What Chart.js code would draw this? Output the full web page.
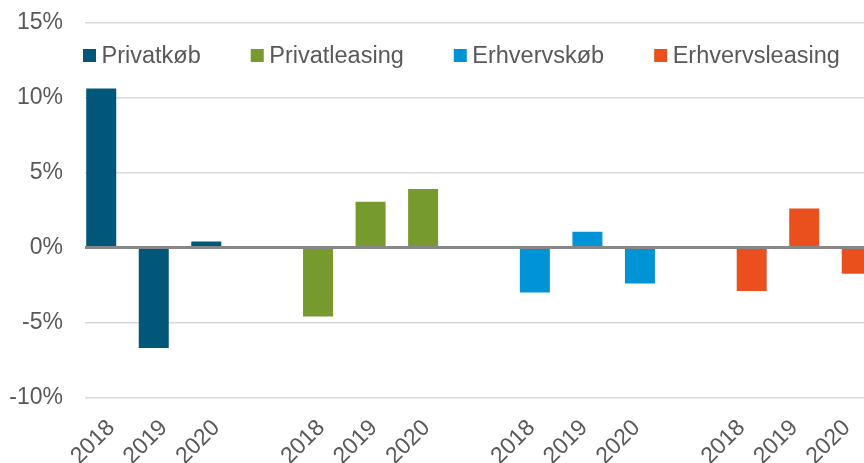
<!DOCTYPE html>
<html>
<head>
<meta charset="utf-8">
<script src="https://cdn.jsdelivr.net/npm/chart.js@4/dist/chart.umd.min.js"></script>
<style>
html,body{margin:0;padding:0;overflow:hidden;background:#fff;width:864px;height:463px}
#wrap{position:relative;width:873px;height:463px}
</style>
</head>
<body>
<div id="wrap"><canvas id="c" width="873" height="463"></canvas></div>
<script>
// ---- data ----
const years = ['2018', '2019', '2020'];
const seriesNames = ['Privatkøb', 'Privatleasing', 'Erhvervskøb', 'Erhvervsleasing'];
const privatkob = [10.6, -6.7, 0.4];
const privatleasing = [-4.6, 3.05, 3.9];
const erhvervskob = [-3.0, 1.05, -2.4];
const erhvervsleasing = [-2.9, 2.6, -1.75];
const yTickValues = [-10, -5, 0, 5, 10, 15];

// ---- styles ----
const colors = ['#00577a', '#779a2e', '#0094d6', '#e9501e'];
const textColor = '#595959';
const fontFamily = '"Liberation Sans", Arial, sans-serif';

const seriesValues = [privatkob, privatleasing, erhvervskob, erhvervsleasing];
const labels = [];
seriesNames.forEach((s, g) => {
  years.forEach(y => labels.push(y));
  if (g < seriesNames.length - 1) labels.push('');
});
const datasets = seriesNames.map((name, g) => {
  const data = labels.map(() => null);
  seriesValues[g].forEach((v, i) => { data[g * (years.length + 1) + i] = v; });
  return {
    label: name,
    data: data,
    backgroundColor: colors[g],
    borderWidth: 0,
    categoryPercentage: 0.51,
    barPercentage: 4.48
  };
});

const zeroLine = {
  id: 'zeroLine',
  afterDatasetsDraw(chart) {
    const {ctx, chartArea: a, scales: {y}} = chart;
    const py = y.getPixelForValue(0);
    ctx.save();
    ctx.strokeStyle = '#878787';
    ctx.lineWidth = 3;
    ctx.beginPath();
    ctx.moveTo(a.left, py);
    ctx.lineTo(a.right, py);
    ctx.stroke();
    ctx.restore();
  }
};

const innerLegend = {
  id: 'innerLegend',
  afterDraw(chart) {
    const ctx = chart.ctx;
    ctx.save();
    ctx.font = '23.5px ' + fontFamily;
    ctx.textBaseline = 'alphabetic';
    ctx.textAlign = 'left';
    let x = 83;
    seriesNames.forEach((n, g) => {
      ctx.fillStyle = colors[g];
      ctx.fillRect(x, 49, 13, 13);
      ctx.fillStyle = textColor;
      ctx.fillText(n, x + 18.5, 63.3);
      x += 18.5 + ctx.measureText(n).width + 50;
    });
    ctx.restore();
  }
};

new Chart(document.getElementById('c'), {
  type: 'bar',
  data: { labels: labels, datasets: datasets },
  options: {
    responsive: false,
    animation: false,
    layout: { padding: { top: 22.6, right: 0, bottom: 0, left: 0 } },
    plugins: { legend: { display: false }, tooltip: { enabled: false } },
    scales: {
      x: {
        type: 'category',
        offset: true,
        grid: { display: false, drawTicks: false },
        border: { display: false },
        ticks: {
          autoSkip: false,
          minRotation: 45,
          maxRotation: 45,
          color: textColor,
          padding: 17,
          font: { family: fontFamily, size: 23 }
        },
        afterFit(s) { s.height = 463 - 397.4; s.paddingLeft = 0; s.paddingRight = 0; }
      },
      y: {
        min: -10,
        max: 15,
        afterBuildTicks(s) { s.ticks = yTickValues.map(v => ({ value: v })); },
        grid: {
          color: ctx => (ctx.tick && ctx.tick.value === 0) ? 'rgba(0,0,0,0)' : '#d9d9d9',
          lineWidth: 1.5,
          drawTicks: false
        },
        border: { display: false },
        ticks: {
          padding: 22,
          color: textColor,
          font: { family: fontFamily, size: 23 },
          callback: v => v + '%'
        },
        afterFit(s) { s.width = 85; s.paddingTop = 0; s.paddingBottom = 0; }
      }
    }
  },
  plugins: [zeroLine, innerLegend]
});
</script>
</body>
</html>
